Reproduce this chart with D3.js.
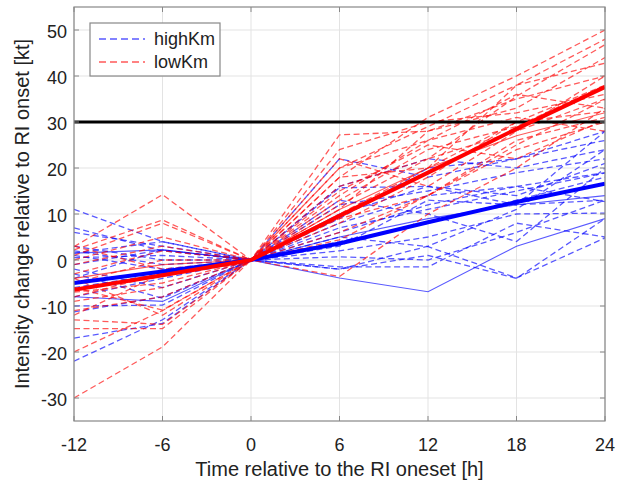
<!DOCTYPE html>
<html>
<head>
<meta charset="utf-8">
<script src="https://cdn.jsdelivr.net/npm/d3@7"></script>
<style>
  html, body { margin: 0; padding: 0; background: #fff; }
  svg { display: block; font-family: "Liberation Sans", Arial, sans-serif; }
</style>
</head>
<body>
<svg id="chart" width="621" height="480"></svg>
<script>
// ---- data ----
const hours = [-12, -6, 0, 6, 12, 18, 24];
const xTicks = [-12, -6, 0, 6, 12, 18, 24];
const yTicks = [-30, -20, -10, 0, 10, 20, 30, 40, 50];
const threshold = 30;

// highKm individual cases (dashed)
const highKmDashed = [
  [11, 4, 0, 22, 18, 22, 28],
  [7, 2, 0, 16, 22, 20, 24],
  [1.5, 4, 0, 10, 16, 14, 21],
  [-1, 2.2, 0, 8, 14, 16, 19],
  [2, -1, 0, 4, 8, 13, 18],
  [-3, -8.3, 0, 6, 12, 16, 12.7],
  [-10, -9.8, 0, 2, 5, 10, 10.2],
  [-11.3, -8, 0, 0.7, 0, 6, 13],
  [-17, -13.8, 0, -1.5, -1.5, 8, 5],
  [-22, -13, 0, -2, 3, 11, 24],
  [0.5, 1, 0, 13, 10, 4, 20],
  [-4, 2.2, 0, 5, 2.9, -3.9, 4.8],
  [3, 0, 0, 15.7, 16, 12, 13],
  [-8, -4, 0, 3, 13, 12, 28],
  [-2, -6, 0, -2, 1, -4, 9],
  [6, 3, 0, 12, 15, 19, 22],
  [-6, -3, 0, 7, 11, 15, 18.9],
  [1, -2, 0, 9, 20, 22, 26]
];
// highKm individual cases (thin solid)
const highKmSolid = [
  [1.5, 2.2, 0, -3.9, -6.9, 3, 9],
  [-8, -9, 0, 5, 9, 12, 14]
];
// lowKm individual cases (dashed)
const lowKmDashed = [
  [2.9, 14.2, 0, 27.2, 28, 35, 40],
  [-30, -18.9, 0, 18, 31, 40, 50],
  [2.2, 8.7, 0, 12, 22, 35.6, 46.8],
  [-14.9, -14.9, 0, 20, 29, 38, 42.8],
  [-3, 2, 0, 4.4, 14, 25, 34.9],
  [-6, -10.9, 0, 10, 20, 30, 32.3],
  [-9, -6, 0, 15, 25, 22, 30.5],
  [-20, -11, 0, 8, 18, 30, 38],
  [0, 5, 0, 24, 30, 32, 36],
  [-8, -3, 0, 14, 26, 31, 28],
  [-11, -8, 0, -3.6, 10, 20, 33],
  [-5, 0, 0, 18, 20, 38, 48],
  [3, -2, 0, 22, 16, 28, 40],
  [-13, -14, 0, 6, 14, 24, 30],
  [-1, 3, 0, 11, 28, 33, 44],
  [-7, -5, 0, 16, 22, 28, 35],
  [1, 8, 0, 9, 14, 26, 31],
  [-12, -3, 0, 20, 26, 36, 33],
  [-4, -12, 0, 13, 24, 29, 38]
];
// lowKm individual cases (thin solid)
const lowKmSolid = [
  [-4, -1, 0, 11, 20, 27, 32]
];
// composite means (thick)
const highKmMean = [-5, -2.5, 0, 3.6, 8.2, 12.6, 16.6];
const lowKmMean = [-6.5, -3.3, 0, 9.6, 19, 28.5, 37.6];

const seriesNames = ["highKm", "lowKm"];
const seriesColors = ["#0000ff", "#ff0000"];

// ---- layout ----
const svg = d3.select("#chart");
const L = 74, R = 605, T = 7, B = 421;
const x = d3.scaleLinear().domain([-12, 24]).range([L, R]);
const y = d3.scaleLinear().domain([-35, 55]).range([B, T]);

svg.append("rect").attr("x", 0).attr("y", 0).attr("width", 621).attr("height", 480).attr("fill", "#fff");

svg.append("defs").append("clipPath").attr("id", "clip")
  .append("rect").attr("x", L).attr("y", T).attr("width", R - L).attr("height", B - T);

// grid
const grid = svg.append("g").attr("stroke", "#e3e3e3").attr("stroke-width", 1);
xTicks.forEach(t => grid.append("line").attr("x1", x(t)).attr("x2", x(t)).attr("y1", T).attr("y2", B));
yTicks.forEach(t => grid.append("line").attr("x1", L).attr("x2", R).attr("y1", y(t)).attr("y2", y(t)));

const line = d3.line().defined(d => d[1] != null).x(d => x(d[0])).y(d => y(d[1]));
const pts = arr => hours.map((h, i) => [h, arr[i]]);

const plot = svg.append("g").attr("clip-path", "url(#clip)");

function drawSet(sets, color, dashed, width, opacity) {
  sets.forEach(s => {
    plot.append("path").attr("d", line(pts(s)))
      .attr("fill", "none").attr("stroke", color)
      .attr("stroke-width", width).attr("stroke-opacity", opacity)
      .attr("stroke-dasharray", dashed ? "6,3.5" : null);
  });
}
drawSet(highKmSolid, seriesColors[0], false, 1.1, 0.65);
drawSet(highKmDashed, seriesColors[0], true, 1.3, 0.65);
drawSet(lowKmSolid, seriesColors[1], false, 1.1, 0.65);
drawSet(lowKmDashed, seriesColors[1], true, 1.3, 0.65);

// threshold
plot.append("line").attr("x1", L).attr("x2", R).attr("y1", y(threshold)).attr("y2", y(threshold))
  .attr("stroke", "#000").attr("stroke-width", 3);

// thick means
plot.append("path").attr("d", line(pts(highKmMean))).attr("fill", "none")
  .attr("stroke", seriesColors[0]).attr("stroke-width", 4).attr("stroke-linejoin", "round");
plot.append("path").attr("d", line(pts(lowKmMean))).attr("fill", "none")
  .attr("stroke", seriesColors[1]).attr("stroke-width", 4).attr("stroke-linejoin", "round");

// box + ticks
const axisColor = "#888";
svg.append("rect").attr("x", L).attr("y", T).attr("width", R - L).attr("height", B - T)
  .attr("fill", "none").attr("stroke", axisColor).attr("stroke-width", 1.2);
const tk = svg.append("g").attr("stroke", axisColor).attr("stroke-width", 1);
const tl = 5;
xTicks.forEach(t => {
  tk.append("line").attr("x1", x(t)).attr("x2", x(t)).attr("y1", B).attr("y2", B - tl);
  tk.append("line").attr("x1", x(t)).attr("x2", x(t)).attr("y1", T).attr("y2", T + tl);
});
yTicks.forEach(t => {
  tk.append("line").attr("x1", L).attr("x2", L + tl).attr("y1", y(t)).attr("y2", y(t));
  tk.append("line").attr("x1", R).attr("x2", R - tl).attr("y1", y(t)).attr("y2", y(t));
});

// tick labels
const lab = svg.append("g").attr("fill", "#222").attr("font-size", "18px");
xTicks.forEach(t => lab.append("text").attr("x", x(t)).attr("y", 451)
  .attr("text-anchor", "middle").text(String(t)));
yTicks.forEach(t => lab.append("text").attr("x", 67).attr("y", y(t) + 8)
  .attr("text-anchor", "end").text(String(t)));

// axis titles
svg.append("text").attr("x", (L + R) / 2).attr("y", 476).attr("text-anchor", "middle")
  .attr("font-size", "20px").attr("fill", "#222").text("Time relative to the RI oneset [h]");
svg.append("text").attr("transform", `translate(29, ${(T + B) / 2}) rotate(-90)`)
  .attr("text-anchor", "middle").attr("font-size", "20px").attr("fill", "#222")
  .text("Intensity change relative to RI onset [kt]");

// legend
const lg = svg.append("g");
lg.append("rect").attr("x", 90).attr("y", 23).attr("width", 130).attr("height", 53)
  .attr("fill", "#fff").attr("stroke", axisColor).attr("stroke-width", 1.2);
seriesNames.forEach((n, i) => {
  const yy = 39 + i * 23;
  lg.append("line").attr("x1", 99).attr("x2", 145).attr("y1", yy).attr("y2", yy)
    .attr("stroke", seriesColors[i]).attr("stroke-opacity", 0.65).attr("stroke-width", 1.3)
    .attr("stroke-dasharray", "7,4");
  lg.append("text").attr("x", 154).attr("y", yy + 6).attr("font-size", "18px")
    .attr("fill", "#222").text(n);
});
</script>
</body>
</html>
